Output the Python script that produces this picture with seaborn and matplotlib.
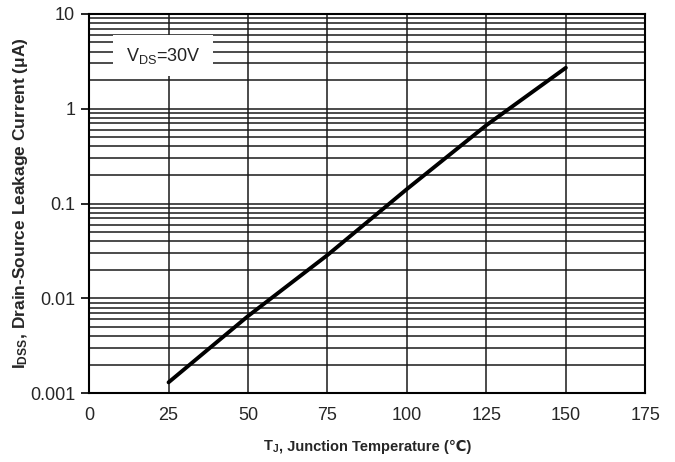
"""IDSS leakage current vs junction temperature."""

import matplotlib.pyplot as plt
import numpy as np
import pandas as pd
import seaborn as sns
from matplotlib.patches import Rectangle
from matplotlib.ticker import FixedLocator, LogLocator, NullFormatter

# data
temp_c = [25, 50, 75, 100, 125, 150]
idss_ua = [0.0013, 0.0065, 0.0286, 0.142, 0.67, 2.7]
x_ticks = [0, 25, 50, 75, 100, 125, 150, 175]
y_ticks = [0.001, 0.01, 0.1, 1, 10]
y_tick_labels = ["0.001", "0.01", "0.1", "1", "10"]

sns.set_theme(style="white")
FONTS = ["Liberation Sans", "DejaVu Sans"]
plt.rcParams["font.family"] = FONTS
plt.rcParams["mathtext.default"] = "regular"

df = pd.DataFrame({"T": temp_c, "I": idss_ua})

fig = plt.figure(figsize=(6.75, 4.62), dpi=100)
ax = fig.add_axes([0.132, 0.149, 0.824, 0.821])

grid_kw = dict(color="#1a1a1a", linewidth=1.1)
ax.set_yscale("log")
ax.set_xlim(0, 175)
ax.set_ylim(0.001, 10)
ax.xaxis.set_major_locator(FixedLocator(x_ticks))
ax.yaxis.set_major_locator(FixedLocator(y_ticks))
ax.yaxis.set_minor_locator(LogLocator(base=10, subs=np.arange(2, 10)))
ax.yaxis.set_minor_formatter(NullFormatter())
ax.set_yticklabels(y_tick_labels)
ax.grid(True, which="major", axis="both", **grid_kw)
ax.grid(True, which="minor", axis="y", **grid_kw)
ax.set_axisbelow(True)

# white box behind the condition label
ax.add_patch(Rectangle((0.043, 0.835), 0.18, 0.11, transform=ax.transAxes,
                       facecolor="white", edgecolor="none", zorder=1))
ax.text(0.133, 0.889, r"V$_{DS}$=30V", transform=ax.transAxes, ha="center",
        va="center", fontsize=13, color="#222222", zorder=3)

sns.lineplot(data=df, x="T", y="I", color="black", linewidth=2.8, ax=ax, zorder=4)

for s in ax.spines.values():
    s.set_color("black")
    s.set_linewidth(1.5)

ax.tick_params(axis="y", which="major", direction="out", length=6, width=1.2,
               color="black", labelsize=13, pad=4, left=True)
ax.tick_params(axis="y", which="minor", length=0)
ax.tick_params(axis="x", which="major", length=0, labelsize=13, pad=10)

ax.set_xlabel("")
ax.set_ylabel(r"I$_{DSS}$, Drain-Source Leakage Current (μA)", fontsize=12.5,
              fontweight="bold", labelpad=0)

# x label in two pieces so the ℃ sign can fall back to DejaVu
renderer = fig.canvas.get_renderer()
t1 = fig.text(0, 0.024, r"T$_J$", fontsize=10.5, fontweight="bold", va="baseline")
t2 = fig.text(0, 0.024, ", Junction Temperature (℃)", fontsize=10.5,
              fontweight="bold", va="baseline", family=FONTS)
w1 = t1.get_window_extent(renderer).width / fig.bbox.width
w2 = t2.get_window_extent(renderer).width / fig.bbox.width
x0 = 0.132 + 0.824 / 2 - (w1 + w2) / 2
t1.set_x(x0)
t2.set_x(x0 + w1)

fig.savefig("out.png", dpi=100)
